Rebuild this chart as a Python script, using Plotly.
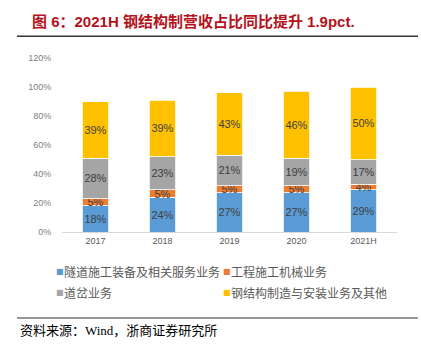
import plotly.graph_objects as go

categories = ["2017", "2018", "2019", "2020", "2021H"]
series_names = ["隧道施工装备及相关服务业务", "工程施工机械业务", "道岔业务", "钢结构制造与安装业务及其他"]
tunnel = [18, 24, 27, 27, 29]
machinery = [5, 5, 5, 5, 4]
turnout = [28, 23, 21, 19, 17]
steel = [39, 39, 43, 46, 50]
colors = ["#5B9BD5", "#ED7D31", "#A5A5A5", "#FFC000"]
y_ticks = [0, 20, 40, 60, 80, 100, 120]

W, H = 421, 346
fig = go.Figure()
for name, vals, col in zip(series_names, [tunnel, machinery, turnout, steel], colors):
    fig.add_trace(go.Bar(
        x=categories, y=vals, name=name,
        marker=dict(color=col, line=dict(color="white", width=0.8)),
        text=[f"{v}%" for v in vals], textposition="inside", insidetextanchor="middle",
        textangle=0,
        textfont=dict(family="Liberation Sans, Arial", size=11, color="#404040"),
        constraintext="none", cliponaxis=False, showlegend=False,
    ))

fig.update_layout(
    width=W, height=H, barmode="stack", bargap=0.6,
    margin=dict(l=62, r=24, t=58, b=114),
    paper_bgcolor="white", plot_bgcolor="white",
    uniformtext=dict(minsize=11, mode="show"),
    xaxis=dict(showline=True, linecolor="#D9D9D9", linewidth=1, ticks="",
               tickfont=dict(family="Liberation Sans, Arial", size=9, color="#595959")),
    yaxis=dict(range=[0, 120], tickvals=y_ticks, ticktext=[f"{v}%" for v in y_ticks],
               showgrid=False, zeroline=False, showline=False,
               ticks="outside", ticklen=8, tickcolor="rgba(0,0,0,0)",
               tickfont=dict(family="Liberation Sans, Arial", size=9, color="#808080")),
    showlegend=False,
)

pw, ph = 335, 173.4
def px_to_paper(xp, yp):
    return (xp - 62) / pw, (231.6 - yp) / ph

# title
xt, yt = px_to_paper(31, 22)
fig.add_annotation(xref="paper", yref="paper", x=xt, y=yt,
                   xanchor="left", yanchor="middle", showarrow=False, borderpad=0,
                   text="图 6：2021H 钢结构制营收占比同比提升 1.9pct.",
                   font=dict(family="Liberation Sans, Noto Sans CJK SC", size=15, color="#B5121B",
                             weight="bold"))

# legend built from series names
leg_pos = [(54, 271), (221, 271), (54, 292), (221, 292)]
for (lx, ly), name, col in zip(leg_pos, series_names, colors):
    x0, y0 = px_to_paper(lx, ly)
    fig.add_annotation(xref="paper", yref="paper", x=x0, y=y0, xanchor="left", yanchor="middle",
                       showarrow=False, text="■",
                       font=dict(family="DejaVu Sans", size=8, color=col))
    x1, _ = px_to_paper(lx + 8, ly)
    fig.add_annotation(xref="paper", yref="paper", x=x1, y=y0, xanchor="left", yanchor="middle",
                       showarrow=False, text=name,
                       font=dict(family="Noto Sans CJK SC", size=12, color="#595959"))

# source
xs, ys = px_to_paper(18, 330)
fig.add_annotation(xref="paper", yref="paper", x=xs, y=ys, xanchor="left", yanchor="middle",
                   showarrow=False, text="资料来源：Wind，浙商证券研究所",
                   font=dict(family="Liberation Serif, Noto Sans CJK SC", size=13, color="#000000"))

# rules
for yl, wline in [(36.5, 1.5), (317.3, 1.2)]:
    xa, ya = px_to_paper(17, yl)
    xb, _ = px_to_paper(418, yl)
    fig.add_shape(type="line", xref="paper", yref="paper", x0=xa, x1=xb, y0=ya, y1=ya,
                  line=dict(color="#333333", width=wline))

fig.write_html("out.html")
